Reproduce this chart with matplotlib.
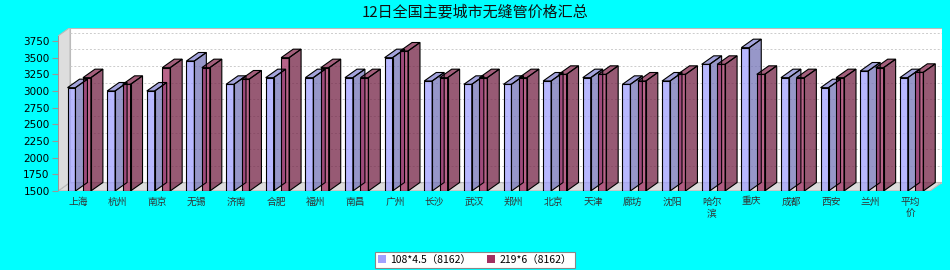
import matplotlib
matplotlib.use("Agg")
import matplotlib.pyplot as plt
from matplotlib.patches import Polygon, Rectangle, Patch

plt.rcParams['font.family'] = ['Noto Sans CJK SC', 'DejaVu Sans']

# 数据
cities = ["上海", "杭州", "南京", "无锡", "济南", "合肥", "福州", "南昌", "广州", "长沙", "武汉",
          "郑州", "北京", "天津", "廊坊", "沈阳", "哈尔\n滨", "重庆", "成都", "西安", "兰州", "平均\n价"]
price_108 = [3050, 3000, 3000, 3450, 3100, 3200, 3200, 3200, 3500, 3150, 3100,
             3100, 3150, 3200, 3100, 3150, 3400, 3650, 3200, 3050, 3300, 3200]
price_219 = [3200, 3100, 3350, 3350, 3180, 3500, 3350, 3200, 3600, 3200, 3200,
             3200, 3250, 3250, 3150, 3250, 3400, 3250, 3200, 3200, 3350, 3280]
series_names = ["108*4.5（8162）", "219*6（8162）"]
yticks = list(range(1500, 3751, 250))
title = "12日全国主要城市无缝管价格汇总"

W, H = 950, 270
fig = plt.figure(figsize=(W / 100, H / 100), dpi=100, facecolor="#00FFFF")

# 像素布局（前面板 + 3D 深度）
left_px, right_px, bot_px, top_px = 58, 942, 191, 27.5
ax = fig.add_axes([left_px / W, 1 - bot_px / H, (right_px - left_px) / W, (bot_px - top_px) / H])
ax.set_facecolor("none")
n = len(cities)
upp = 15.0                             # 每像素的数值
ppx = (right_px - left_px - 12) / n    # 每类别像素
dx = 12 / ppx
dy = 8.5 * upp
ymin = 1500
ymax = ymin + (bot_px - top_px) * upp
ax.set_xlim(0, n + dx)
ax.set_ylim(ymin, ymax)
for s in ax.spines.values():
    s.set_visible(False)

# 背板、地面、左墙
ax.add_patch(Rectangle((dx, ymin + dy), n, ymax - ymin - dy, facecolor="white",
                       edgecolor="#BBBBBB", lw=0.8, zorder=0))
ax.add_patch(Polygon([(0, ymin), (n, ymin), (n + dx, ymin + dy), (dx, ymin + dy)],
                     closed=True, facecolor="#DDDDDD", edgecolor="#BBBBBB", lw=0.8, zorder=0.5))
ax.add_patch(Polygon([(0, ymin), (dx, ymin + dy), (dx, ymax), (0, ymax - dy)],
                     closed=True, facecolor="#DDDDDD", edgecolor="#BBBBBB", lw=0.8, zorder=0.5))
for v in yticks:
    ax.plot([dx, n + dx], [v + dy, v + dy], ls=(0, (2, 2)), color="#CCCCCC", lw=0.7, zorder=0.6)
ax.plot([0, n], [ymin, ymin], color="#999999", lw=0.8, zorder=0.7)
ax.plot([0, 0], [ymin, ymax - dy], color="#999999", lw=0.8, zorder=0.7)


def darker(c, f):
    return tuple(min(1, x * f) for x in c)


def bar3d(x0, w, v, color, alpha=0.75):
    x1 = x0 + w
    faces = [
        ([(x1, ymin), (x1 + dx, ymin + dy), (x1 + dx, v + dy), (x1, v)], darker(color, 0.72)),
        ([(x0, v), (x1, v), (x1 + dx, v + dy), (x0 + dx, v + dy)], darker(color, 0.82)),
        ([(x0, ymin), (x1, ymin), (x1, v), (x0, v)], color),
    ]
    for xy, fc in faces:
        ax.add_patch(Polygon(xy, closed=True, facecolor=fc, alpha=alpha,
                             edgecolor="none", zorder=2))
        ax.add_patch(Polygon(xy, closed=True, fill=False, edgecolor="black",
                             lw=0.8, zorder=2.1))


c_blue = (0.63, 0.63, 1.0)
c_red = (0.63, 0.19, 0.38)
for i in range(n):
    bar3d(i + 0.24, 0.2, price_108[i], c_blue)
    bar3d(i + 0.63, 0.2, price_219[i], c_red)

ax.set_yticks(yticks)
ax.set_yticklabels([str(v) for v in yticks], fontsize=7.5, family="DejaVu Sans")
ax.tick_params(axis="y", length=4, color="#999999", pad=2)
ax.set_xticks([i + 0.5 for i in range(n)])
ax.set_xticklabels(cities, fontsize=7, color="#333333", linespacing=1.3, va="top")
ax.tick_params(axis="x", length=0, pad=4)

fig.text(475 / W, 1 - 12 / H, title, ha="center", va="center", fontsize=10.8, color="#111111")

handles = [Patch(facecolor=c_blue, edgecolor="none"), Patch(facecolor=c_red, edgecolor="none")]
leg = fig.legend(handles, series_names, loc="center", bbox_to_anchor=(475 / W, 1 - 260 / H),
                 ncol=2, fontsize=7.5, frameon=True, fancybox=False, framealpha=1,
                 edgecolor="#888888", handlelength=0.8, handleheight=0.8, handletextpad=0.4,
                 columnspacing=1.5, borderpad=0.3)
leg.get_frame().set_linewidth(0.8)

fig.savefig("out.png", dpi=100, facecolor=fig.get_facecolor())
